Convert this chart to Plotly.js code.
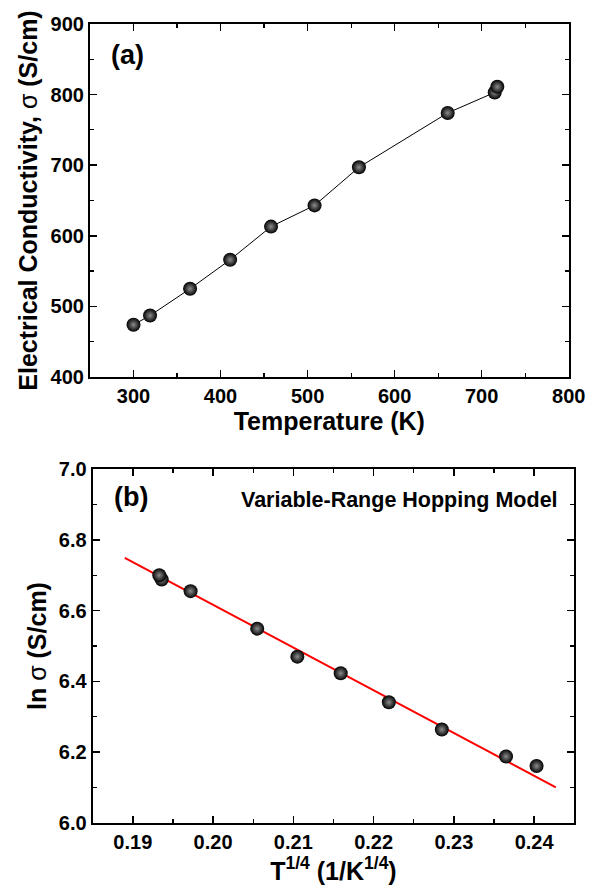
<!DOCTYPE html>
<html>
<head>
<meta charset="utf-8">
<script src="https://cdn.plot.ly/plotly-3.0.1.min.js"></script>
<style>html,body{margin:0;padding:0;background:#fff;}#chart{width:594px;height:891px;}</style>
</head>
<body>
<div id="chart"></div>
<script>
// Panel (a): conductivity vs temperature
const temperatureK = [300, 319, 365, 411, 458, 508, 559, 661, 715, 718];
const conductivity = [474, 487, 525, 566, 613, 643, 697, 774, 803, 811];

// Panel (b): ln(sigma) vs T^-1/4 (Variable-Range Hopping)
const tQuarter = [0.2403, 0.2365, 0.2285, 0.2219, 0.2159, 0.2105, 0.2055, 0.1972, 0.1936, 0.1933];
const lnSigma  = [6.161, 6.188, 6.264, 6.341, 6.423, 6.470, 6.549, 6.655, 6.688, 6.700];

// Linear fit line endpoints (as drawn)
const fitX = [0.1890, 0.2427];
const fitY = [6.749, 6.101];

const FONT = "Liberation Sans, Arial, Helvetica, sans-serif";

const marker = {
  size: 14,
  color: '#000000',
  gradient: {type: 'radial', color: '#8c8c8c'},
  line: {width: 0}
};

const traces = [
  {x: temperatureK, y: conductivity, type: 'scatter', mode: 'lines',
   line: {color: '#000', width: 1}, xaxis: 'x', yaxis: 'y', hoverinfo: 'skip'},
  {x: temperatureK, y: conductivity, type: 'scatter', mode: 'markers',
   marker: marker, xaxis: 'x', yaxis: 'y'},
  {x: fitX, y: fitY, type: 'scatter', mode: 'lines',
   line: {color: '#ff0000', width: 2}, xaxis: 'x2', yaxis: 'y2'},
  {x: tQuarter, y: lnSigma, type: 'scatter', mode: 'markers',
   marker: marker, xaxis: 'x2', yaxis: 'y2'}
];

const tickFont = {family: FONT, size: 20, color: '#000', weight: 'bold'};
const titleFont = {family: FONT, size: 25, color: '#000', weight: 'bold'};

function minorOpts(dtick, tick0) {
  return {ticks: 'inside', ticklen: 4, tickwidth: 1.2, tickcolor: '#000', dtick: dtick, tick0: tick0, showgrid: false};
}

function axisBase(extra) {
  return Object.assign({
    showline: true, linecolor: '#000', linewidth: 2, mirror: 'allticks',
    ticks: 'inside', ticklen: 7, tickwidth: 1.5, tickcolor: '#000',
    showgrid: false, zeroline: false, tickfont: tickFont
  }, extra);
}

const layout = {
  width: 594, height: 891,
  margin: {l: 0, r: 0, t: 0, b: 0},
  paper_bgcolor: '#fff', plot_bgcolor: '#fff',
  showlegend: false,
  font: {family: FONT, color: '#000'},
  xaxis: axisBase({
    domain: [0.1515, 0.9574], anchor: 'y', range: [250, 800],
    tickmode: 'linear', tick0: 300, dtick: 100,
    minor: minorOpts(50, 250),
    title: {text: 'Temperature (K)', font: titleFont, standoff: 4}
  }),
  yaxis: axisBase({
    domain: [0.5769, 0.9731], anchor: 'x', range: [400, 900],
    tickmode: 'linear', tick0: 400, dtick: 100,
    minor: minorOpts(50, 400),
    title: {text: 'Electrical Conductivity, <span style="font-weight:normal">σ</span> (S/cm)', font: titleFont, standoff: 6}
  }),
  xaxis2: axisBase({
    domain: [0.1560, 0.9668], anchor: 'y2', range: [0.185, 0.245],
    tickmode: 'linear', tick0: 0.19, dtick: 0.01, tickformat: '.2f',
    minor: minorOpts(0.005, 0.185),
    title: {text: 'T<sup>1/4</sup> (1/K<sup>1/4</sup>)', font: titleFont, standoff: 6}
  }),
  yaxis2: axisBase({
    domain: [0.0763, 0.4736], anchor: 'x2', range: [6.0, 7.0],
    tickmode: 'linear', tick0: 6.0, dtick: 0.2, tickformat: '.1f',
    minor: minorOpts(0.1, 6.0),
    title: {text: 'ln <span style="font-weight:normal">σ</span> (S/cm)', font: titleFont, standoff: 5}
  }),
  annotations: [
    {text: '(a)', xref: 'x domain', yref: 'y domain', x: 0.079, y: 0.912,
     xanchor: 'center', yanchor: 'middle', showarrow: false,
     font: {family: FONT, size: 27, color: '#000', weight: 'bold'}},
    {text: '(b)', xref: 'x2 domain', yref: 'y2 domain', x: 0.0795, y: 0.921,
     xanchor: 'center', yanchor: 'middle', showarrow: false,
     font: {family: FONT, size: 27, color: '#000', weight: 'bold'}},
    {text: 'Variable-Range Hopping Model', xref: 'x2 domain', yref: 'y2 domain', x: 0.637, y: 0.912,
     xanchor: 'center', yanchor: 'middle', showarrow: false,
     font: {family: FONT, size: 21.5, color: '#000', weight: 'bold'}}
  ]
};

Plotly.newPlot('chart', traces, layout, {staticPlot: true, displayModeBar: false});
</script>
</body>
</html>
